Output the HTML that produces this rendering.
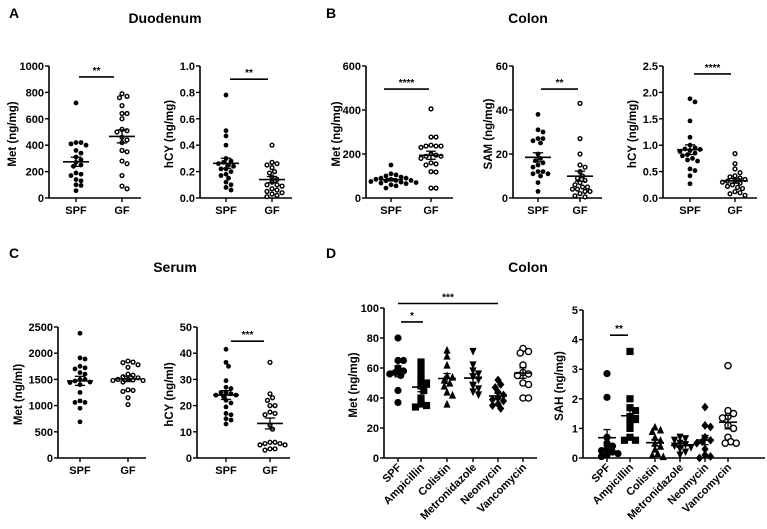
<!DOCTYPE html>
<html><head><meta charset="utf-8"><style>
html,body{margin:0;padding:0;background:#fff;}
svg{display:block;font-family:"Liberation Sans",Arial,sans-serif;}
</style></head><body>
<svg id="fig" width="767" height="529" viewBox="0 0 767 529">
<text x="9" y="18" font-size="14" font-weight="bold">A</text>
<text x="326" y="18" font-size="14" font-weight="bold">B</text>
<text x="9" y="258" font-size="14" font-weight="bold">C</text>
<text x="326" y="258" font-size="14" font-weight="bold">D</text>
<text x="165" y="23" font-size="14" font-weight="bold" text-anchor="middle">Duodenum</text>
<text x="528" y="23" font-size="14" font-weight="bold" text-anchor="middle">Colon</text>
<text x="175" y="272" font-size="14" font-weight="bold" text-anchor="middle">Serum</text>
<text x="528" y="272" font-size="14" font-weight="bold" text-anchor="middle">Colon</text>
</svg>
<script>
// ---- data ----
const twoCats = ["SPF","GF"];
const abxCats = ["SPF","Ampicillin","Colistin","Metronidazole","Neomycin","Vancomycin"];
const aMetSPF=[720,420,420,410,400,360,340,310,290,270,250,240,190,180,170,140,130,100,95,55];
const aMetGF=[790,770,760,700,640,640,600,520,510,460,440,420,360,350,280,260,170,90,70,500];
const aHcySPF=[0.78,0.51,0.47,0.40,0.30,0.28,0.27,0.26,0.25,0.24,0.22,0.22,0.20,0.18,0.17,0.15,0.12,0.10,0.08,0.06];
const aHcyGF=[0.40,0.27,0.26,0.25,0.23,0.20,0.19,0.16,0.14,0.12,0.10,0.10,0.09,0.07,0.06,0.05,0.04,0.03,0.02,0.01];
const bMetSPF=[150,110,105,100,95,90,90,85,85,80,80,78,75,72,70,68,65,60,55,45];
const bMetGF=[405,277,277,240,236,236,236,230,200,195,190,190,160,155,150,120,118,45,45,180];
const bSamSPF=[38,31,30,27,27,26,25,20,18,17,16,15,14,12,12,11,11,10,7,3];
const bSamGF=[43,27,20,15,14,12,10,9,8,7,6,5,5,4,4,3,3,2,1,0.5];
const bHcySPF=[1.88,1.82,1.46,1.15,1.0,0.95,0.93,0.92,0.90,0.88,0.85,0.82,0.80,0.72,0.70,0.55,0.52,0.42,0.27,0.75];
const bHcyGF=[0.84,0.65,0.55,0.48,0.42,0.40,0.38,0.35,0.33,0.32,0.30,0.28,0.25,0.22,0.20,0.18,0.12,0.10,0.08,0.05];
const cMetSPF=[2380,1910,1890,1750,1720,1700,1630,1600,1500,1470,1450,1440,1400,1250,1090,1060,1060,950,690,1500];
const cMetGF=[1850,1830,1820,1780,1730,1600,1580,1550,1530,1500,1500,1490,1480,1300,1290,1270,1150,1020,1480,1450];
const cHcySPF=[41.5,36.5,35,29.5,27,26.5,25,24.5,24,24,23.5,22,21,19.5,17,16.5,15,14.5,13,25];
const cHcyGF=[36.5,24.5,23,22,20,20,17.5,17,16.5,12.5,11,6,6,5.5,5,5,3.5,3.5,3,5.5];
const dMet=[[80,65,65,60,58,57,56,55,45,37],[64,60,56,52,50,48,45,40,36,35,34],[72,68,62,55,54,52,50,48,44,42,36],[71,62,58,56,54,52,48,46,44,42],[52,49,47,44,42,40,39,38,36,35,33],[73,71,70,62,57,56,55,50,49,40,40]];
const dSah=[[2.85,2.05,0.7,0.5,0.4,0.3,0.25,0.2,0.15,0.1,0.05],[3.6,2.0,1.7,1.6,1.4,1.3,1.2,1.0,0.7,0.6,0.6],[1.05,0.95,0.9,0.7,0.6,0.5,0.4,0.3,0.15,0.1,0.05],[0.7,0.65,0.6,0.5,0.45,0.4,0.35,0.3,0.2,0.1],[1.72,1.1,1.05,0.7,0.6,0.55,0.5,0.3,0.1,0.05,0.0],[3.12,1.6,1.5,1.4,1.35,1.1,1.0,0.7,0.55,0.5,0.5]];
const ticksMetA=[0,200,400,600,800,1000];
const ticksHcyA=[0,0.2,0.4,0.6,0.8,1.0];
const ticksMetB=[0,200,400,600];
const ticksSamB=[0,20,40,60];
const ticksHcyB=[0,0.5,1.0,1.5,2.0,2.5];
const ticksMetC=[0,500,1000,1500,2000,2500];
const ticksHcyC=[0,10,20,30,40,50];
const ticksMetD=[0,20,40,60,80,100];
const ticksSahD=[0,1,2,3,4,5];

const NS="http://www.w3.org/2000/svg";
const svg=document.getElementById('fig');
function mk(tag,attrs,parent){const e=document.createElementNS(NS,tag);for(const k in attrs)e.setAttribute(k,attrs[k]);(parent||svg).appendChild(e);return e;}
function fmt(v,dec){return dec?v.toFixed(1):String(v);}

function panel(cfg){
  const g=mk('g',{});
  
  
  const ymax=cfg.ticks[cfg.ticks.length-1];
  const ys=v=>cfg.y0-(v/ymax)*(cfg.y0-cfg.y1);
  const xs=i=>cfg.cx[i];
  const ya=mk('line',{x1:cfg.ax,y1:cfg.y1,x2:cfg.ax,y2:cfg.y0,stroke:'#000','stroke-width':1.6},g);
  
  
  const xa=mk('line',{x1:cfg.ax,y1:cfg.y0,x2:cfg.axEnd,y2:cfg.y0,stroke:'#000','stroke-width':1.6},g);
  
  
  cfg.ticks.forEach(t=>{
    const y=ys(t);
    mk('line',{x1:cfg.ax-4,y1:y,x2:cfg.ax,y2:y,stroke:'#000','stroke-width':1.4},g);
    const tl=mk('text',{x:cfg.ax-5,y:y+4,'font-size':11,'font-weight':'bold','text-anchor':'end'},g);
    tl.textContent=fmt(t,cfg.dec);
    
    
  });
  const yt=mk('text',{x:0,y:0,'font-size':11.5,'font-weight':'bold','text-anchor':'middle',transform:`translate(${cfg.ax-cfg.titleOff},${(cfg.y0+cfg.y1)/2+2}) rotate(-90)`},g);
  yt.textContent=cfg.ytitle;
  
  
  cfg.cats.forEach((c,i)=>{
    mk('line',{x1:xs(i),y1:cfg.y0,x2:xs(i),y2:cfg.y0+4,stroke:'#000','stroke-width':1.4},g);
    let t;
    if(cfg.rot){t=mk('text',{x:0,y:0,'font-size':11,'font-weight':'bold','text-anchor':'end',transform:`translate(${xs(i)+4},${cfg.y0+10}) rotate(-45)`},g);}
    else{t=mk('text',{x:xs(i),y:cfg.y0+16,'font-size':11,'font-weight':'bold','text-anchor':'middle'},g);}
    t.textContent=c;
    
    
  });
  cfg.series.forEach((vals,i)=>{
    const r=cfg.r, cx=xs(i);
    const placed=[];
    const order=vals.map((v,k)=>k).sort((a,b)=>vals[b]-vals[a]);
    const minD=cfg.minD||2*r*0.95;
    order.forEach(k=>{
      const y=ys(vals[k]);
      let off=0;
      for(let s=0;s<30;s++){
        const cand=s===0?0:(s%2?1:-1)*Math.ceil(s/2)*(minD*0.55);
        if(placed.every(p=>Math.hypot(p[0]-(cx+cand),p[1]-y)>=minD)){off=cand;break;}
      }
      placed.push([cx+off,y]);
      const m=cfg.markers[i];
      const px=cx+off;
      let e;
      if(m==='o'){e=mk('circle',{cx:px,cy:y,r:r,fill:'#000'},g);}
      else if(m==='oo'){e=mk('circle',{cx:px,cy:y,r:r-0.5,fill:'#fff',stroke:'#000','stroke-width':1.4},g);}
      else if(m==='s'){e=mk('rect',{x:px-r,y:y-r,width:2*r,height:2*r,fill:'#000'},g);}
      else if(m==='^'){e=mk('polygon',{points:`${px},${y-r-0.5} ${px-r},${y+r} ${px+r},${y+r}`,fill:'#000'},g);}
      else if(m==='v'){e=mk('polygon',{points:`${px},${y+r+0.5} ${px-r},${y-r} ${px+r},${y-r}`,fill:'#000'},g);}
      else if(m==='d'){e=mk('polygon',{points:`${px},${y-r-0.8} ${px+r},${y} ${px},${y+r+0.8} ${px-r},${y}`,fill:'#000'},g);}
      
      
    });
    const n=vals.length, mean=vals.reduce((a,b)=>a+b,0)/n;
    const sd=Math.sqrt(vals.reduce((a,b)=>a+(b-mean)**2,0)/(n-1)), sem=sd/Math.sqrt(n);
    const ml=mk('line',{x1:cx-cfg.mw,y1:ys(mean),x2:cx+cfg.mw,y2:ys(mean),stroke:'#000','stroke-width':1.6},g);
    
    
    mk('line',{x1:cx,y1:ys(mean-sem),x2:cx,y2:ys(mean+sem),stroke:'#000','stroke-width':1.3},g);
    [mean-sem,mean+sem].forEach(v=>mk('line',{x1:cx-cfg.mw*0.4,y1:ys(v),x2:cx+cfg.mw*0.4,y2:ys(v),stroke:'#000','stroke-width':1.3},g));
  });
  (cfg.sig||[]).forEach(s=>{
    const y=ys(s.v);
    const x1=xs(s.a)+s.da, x2=xs(s.b)+s.db;
    const l=mk('line',{x1:x1,y1:y,x2:x2,y2:y,stroke:'#000','stroke-width':1.6},g);
    
    
    const t=mk('text',{x:(x1+x2)/2,y:y-3,'font-size':10,'font-weight':'bold','text-anchor':'middle'},g);
    t.textContent=s.t;
    
    
  });
}
const r2=2.4;
panel({name:'panel-a-met',ax:49,axEnd:141,y0:198,y1:66,ticks:ticksMetA,cats:twoCats,cx:[76,122],series:[aMetSPF,aMetGF],markers:['o','oo'],r:r2,mw:13,ytitle:'Met (ng/mg)',titleOff:33,sig:[{a:0,b:1,v:917,t:'**',da:3,db:-8}]});
panel({name:'panel-a-hcy',ax:200,axEnd:292,y0:198,y1:66,ticks:ticksHcyA,dec:true,cats:twoCats,cx:[226,272],series:[aHcySPF,aHcyGF],markers:['o','oo'],r:r2,mw:13,ytitle:'hCY (ng/mg)',titleOff:27,sig:[{a:0,b:1,v:0.9,t:'**',da:4,db:-4}]});
panel({name:'panel-b-met',ax:366,axEnd:453,y0:198,y1:66,ticks:ticksMetB,cats:twoCats,cx:[391,431],series:[bMetSPF,bMetGF],markers:['o','oo'],r:r2,mw:12,ytitle:'Met (ng/mg)',titleOff:26,sig:[{a:0,b:1,v:495,t:'****',da:-7,db:-2}]});
panel({name:'panel-b-sam',ax:513,axEnd:602,y0:198,y1:66,ticks:ticksSamB,cats:twoCats,cx:[538,580],series:[bSamSPF,bSamGF],markers:['o','oo'],r:r2,mw:13,ytitle:'SAM (ng/mg)',titleOff:21,sig:[{a:0,b:1,v:49.5,t:'**',da:3,db:-2}]});
panel({name:'panel-b-hcy',ax:663,axEnd:757,y0:198,y1:66,ticks:ticksHcyB,dec:true,cats:twoCats,cx:[690,735],series:[bHcySPF,bHcyGF],markers:['o','oo'],r:r2,mw:13,ytitle:'hCY (ng/mg)',titleOff:27,sig:[{a:0,b:1,v:2.35,t:'****',da:4,db:-4}]});
panel({name:'panel-c-met',ax:58,axEnd:146,y0:458,y1:327,ticks:ticksMetC,cats:twoCats,cx:[80,128],series:[cMetSPF,cMetGF],markers:['o','oo'],r:r2,mw:13,ytitle:'Met (ng/ml)',titleOff:36,sig:[]});
panel({name:'panel-c-hcy',ax:197,axEnd:290,y0:458,y1:327,ticks:ticksHcyC,cats:twoCats,cx:[226,270],series:[cHcySPF,cHcyGF],markers:['o','oo'],r:r2,mw:13,ytitle:'hCY (ng/ml)',titleOff:24,sig:[{a:0,b:1,v:44.6,t:'***',da:5,db:-6}]});
panel({name:'panel-d-met',ax:384,axEnd:537,y0:458,y1:308,ticks:ticksMetD,cats:abxCats,cx:[398,421,447,473,498,523],series:dMet,markers:['o','s','^','v','d','oo'],r:3.6,minD:5,mw:9,rot:true,ytitle:'Met (ng/mg)',titleOff:27,sig:[{a:0,b:4,v:103,t:'***',da:0,db:0},{a:0,b:1,v:90.7,t:'*',da:3,db:2}]});
panel({name:'panel-d-sah',ax:583,axEnd:765,y0:458,y1:310,ticks:ticksSahD,cats:abxCats,cx:[607,630,655,680,705,728],series:dSah,markers:['o','s','^','v','d','oo'],r:3.6,minD:5,mw:9,rot:true,ytitle:'SAH (ng/mg)',titleOff:20,sig:[{a:0,b:1,v:4.15,t:'**',da:3,db:-2}]});
</script>
</body></html>
